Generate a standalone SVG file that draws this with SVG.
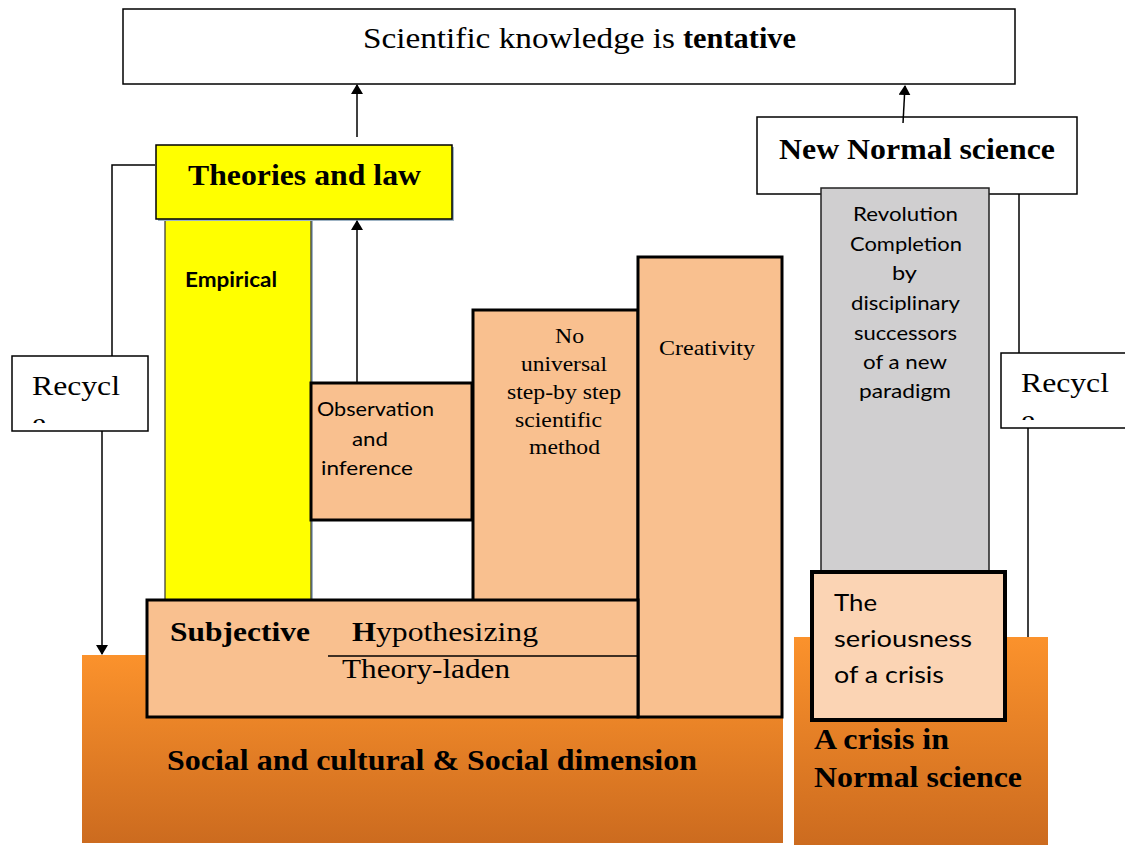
<svg xmlns="http://www.w3.org/2000/svg" width="1125" height="845" viewBox="0 0 1125 845">
<style>
.serif{font-family:"Liberation Serif","Times New Roman",serif;fill:#000}
.sans{font-family:Lato,"Liberation Sans",sans-serif;fill:#000}
.b{font-weight:bold}
.thin{fill:#fff;stroke:#000;stroke-width:1.5}
.thick{stroke:#000;stroke-width:3}
.peach{fill:#f9c08f}
.conn{stroke:#000;stroke-width:1.5;fill:none}
</style>
<defs>
<linearGradient id="og" x1="0" y1="0" x2="0" y2="1">
<stop offset="0" stop-color="#fb922c"/>
<stop offset="1" stop-color="#cc6b1f"/>
</linearGradient>
<marker id="ah" markerWidth="10" markerHeight="12" refX="9" refY="6" orient="auto" markerUnits="userSpaceOnUse">
<path d="M0,0 L10,6 L0,12 z" fill="#000"/>
</marker>
</defs>

<g id="base-left">
<rect x="82" y="655" width="701" height="188" fill="url(#og)"/>
<text class="serif b" x="167" y="770" font-size="30" textLength="530" lengthAdjust="spacingAndGlyphs">Social and cultural &amp; Social dimension</text>
</g>
<g id="base-right">
<rect x="794" y="637" width="254" height="208" fill="url(#og)"/>
<text class="serif b" x="814" y="749" font-size="30" textLength="135" lengthAdjust="spacingAndGlyphs">A crisis in</text>
<text class="serif b" x="814" y="787" font-size="30" textLength="208" lengthAdjust="spacingAndGlyphs">Normal science</text>
</g>

<g id="top">
<rect x="123" y="9" width="892" height="75" class="thin"/>
<text class="serif" x="363" y="48" font-size="30" textLength="312" lengthAdjust="spacingAndGlyphs">Scientific knowledge is</text>
<text class="serif b" x="683" y="48" font-size="30" textLength="113" lengthAdjust="spacingAndGlyphs">tentative</text>
</g>

<g id="empirical">
<rect x="167" y="221" width="146" height="381" fill="#9fb4c4"/>
<rect x="165" y="219" width="146" height="381" fill="#ffff00" stroke="#333" stroke-width="1.2"/>
<text class="sans b" x="185" y="287" font-size="20" textLength="92" lengthAdjust="spacingAndGlyphs">Empirical</text>
</g>

<g id="theories">
<rect x="158" y="147" width="296" height="74" fill="#9fb4c4"/>
<rect x="156" y="145" width="296" height="74" fill="#ffff00" stroke="#000" stroke-width="1.5"/>
<text class="serif b" x="188" y="185" font-size="30" textLength="233" lengthAdjust="spacingAndGlyphs">Theories and law</text>
</g>

<g id="observation">
<rect x="311" y="383" width="161" height="137" class="peach thick"/>
<text class="sans" x="317" y="416" font-size="20" textLength="117" lengthAdjust="spacingAndGlyphs">Observation</text>
<text class="sans" x="352" y="446" font-size="20" textLength="36" lengthAdjust="spacingAndGlyphs">and</text>
<text class="sans" x="321" y="475" font-size="20" textLength="92" lengthAdjust="spacingAndGlyphs">inference</text>
</g>

<g id="nouniversal">
<rect x="473" y="310" width="165" height="292" class="peach thick"/>
<text class="serif" x="555" y="343" font-size="21" textLength="29" lengthAdjust="spacingAndGlyphs">No</text>
<text class="serif" x="521" y="371" font-size="21" textLength="86" lengthAdjust="spacingAndGlyphs">universal</text>
<text class="serif" x="507" y="399" font-size="21" textLength="114" lengthAdjust="spacingAndGlyphs">step-by step</text>
<text class="serif" x="515" y="427" font-size="21" textLength="87" lengthAdjust="spacingAndGlyphs">scientific</text>
<text class="serif" x="529" y="454" font-size="21" textLength="71" lengthAdjust="spacingAndGlyphs">method</text>
</g>

<g id="creativity">
<rect x="638" y="257" width="144" height="460" class="peach thick"/>
<text class="serif" x="659" y="355" font-size="21" textLength="96" lengthAdjust="spacingAndGlyphs">Creativity</text>
</g>

<g id="subjective">
<rect x="147" y="600" width="491" height="117" class="peach thick"/>
<text class="serif b" x="170" y="641" font-size="27" textLength="140" lengthAdjust="spacingAndGlyphs">Subjective</text>
<text class="serif b" x="352" y="641" font-size="27" textLength="24" lengthAdjust="spacingAndGlyphs">H</text>
<text class="serif" x="376" y="641" font-size="27" textLength="162" lengthAdjust="spacingAndGlyphs">ypothesizing</text>
<line x1="328" y1="656" x2="638" y2="656" stroke="#000" stroke-width="1.5"/>
<text class="serif" x="342" y="678" font-size="27" textLength="168" lengthAdjust="spacingAndGlyphs">Theory-laden</text>
</g>

<g id="newnormal">
<rect x="757" y="117" width="320" height="77" class="thin"/>
<text class="serif b" x="779" y="159" font-size="30" textLength="276" lengthAdjust="spacingAndGlyphs">New Normal science</text>
</g>

<g id="revolution">
<rect x="821" y="188" width="168" height="384" fill="#d0cfd0" stroke="#222" stroke-width="1.5"/>
<text class="sans" x="853" y="221" font-size="20" textLength="105" lengthAdjust="spacingAndGlyphs">Revolution</text>
<text class="sans" x="850" y="251" font-size="20" textLength="112" lengthAdjust="spacingAndGlyphs">Completion</text>
<text class="sans" x="892" y="280" font-size="20" textLength="25" lengthAdjust="spacingAndGlyphs">by</text>
<text class="sans" x="851" y="310" font-size="20" textLength="109" lengthAdjust="spacingAndGlyphs">disciplinary</text>
<text class="sans" x="854" y="340" font-size="20" textLength="103" lengthAdjust="spacingAndGlyphs">successors</text>
<text class="sans" x="863" y="369" font-size="20" textLength="84" lengthAdjust="spacingAndGlyphs">of a new</text>
<text class="sans" x="859" y="398" font-size="20" textLength="92" lengthAdjust="spacingAndGlyphs">paradigm</text>
</g>

<g id="seriousness">
<rect x="812" y="572" width="193" height="148" fill="#fbd4b4" stroke="#000" stroke-width="4"/>
<text class="sans" x="834" y="611" font-size="24" textLength="43" lengthAdjust="spacingAndGlyphs">The</text>
<text class="sans" x="834" y="647" font-size="24" textLength="138" lengthAdjust="spacingAndGlyphs">seriousness</text>
<text class="sans" x="834" y="683" font-size="24" textLength="110" lengthAdjust="spacingAndGlyphs">of a crisis</text>
</g>

<g id="recycle-left">
<rect x="12" y="356" width="136" height="75" class="thin"/>
<svg x="12" y="356" width="136" height="67" overflow="hidden">
<text class="serif" x="20" y="39" font-size="27" textLength="88" lengthAdjust="spacingAndGlyphs">Recycl</text>
<text class="serif" x="20" y="76" font-size="27" textLength="14" lengthAdjust="spacingAndGlyphs">e</text>
</svg>
</g>

<g id="recycle-right">
<rect x="1001" y="353" width="130" height="75" class="thin"/>
<svg x="1001" y="353" width="124" height="67" overflow="hidden">
<text class="serif" x="20" y="39" font-size="27" textLength="88" lengthAdjust="spacingAndGlyphs">Recycl</text>
<text class="serif" x="20" y="76" font-size="27" textLength="14" lengthAdjust="spacingAndGlyphs">e</text>
</svg>
</g>

<g id="connectors">
<line x1="357" y1="137" x2="357" y2="85" class="conn" marker-end="url(#ah)"/>
<line x1="903" y1="123" x2="905" y2="86" class="conn" marker-end="url(#ah)"/>
<line x1="357" y1="383" x2="357" y2="221" class="conn" marker-end="url(#ah)"/>
<polyline points="155,165 112,165 112,356" class="conn"/>
<line x1="102" y1="431" x2="102" y2="654" class="conn" marker-end="url(#ah)"/>
<line x1="1019" y1="194" x2="1019" y2="353" class="conn"/>
<line x1="1028" y1="428" x2="1028" y2="637" class="conn"/>
</g>
</svg>
